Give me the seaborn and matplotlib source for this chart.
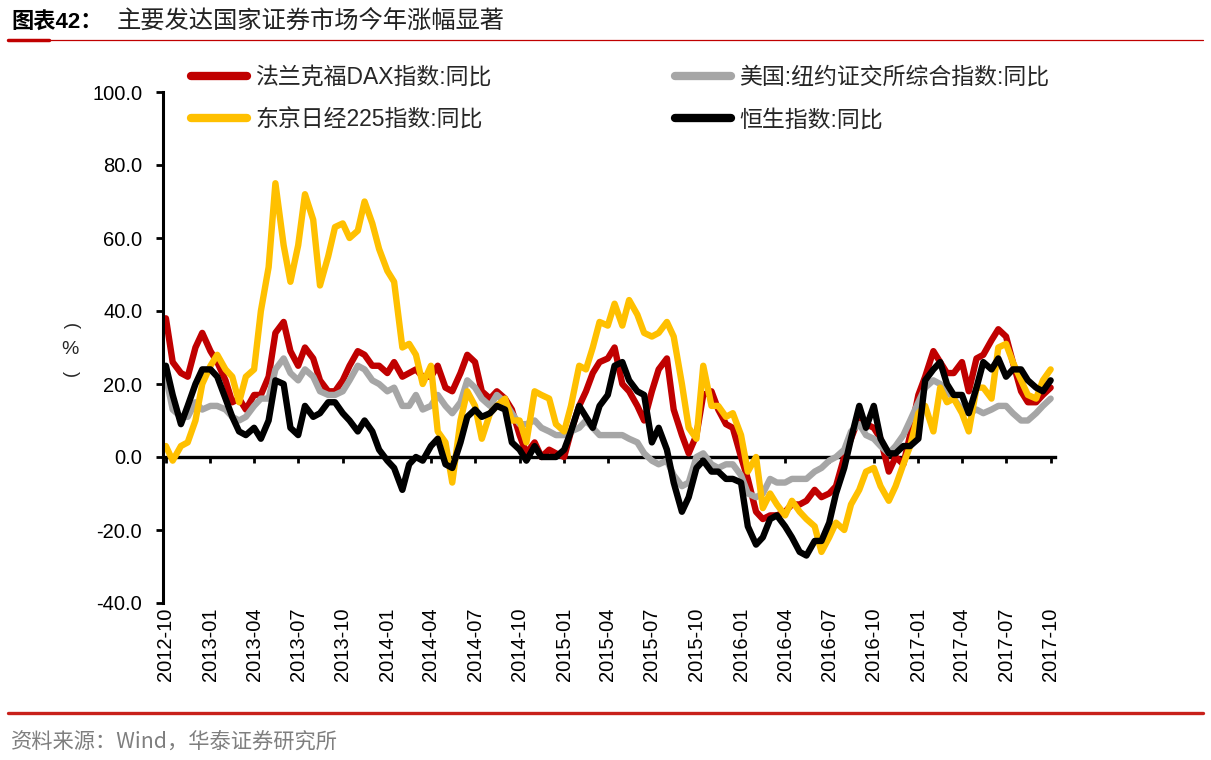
import numpy as np
import pandas as pd
import matplotlib
matplotlib.use("Agg")
import matplotlib.pyplot as plt
from matplotlib.lines import Line2D
import seaborn as sns

# ---------------- data (semi-monthly readings, % YoY) ----------------
dates = pd.date_range("2012-10-01", periods=121, freq="SMS")

dax = [38, 26, 23, 22, 30, 34, 29, 26, 21, 15, 16, 13, 17, 17, 22, 34, 37, 29, 25, 30,
       27, 21, 18, 18, 21, 25, 29, 28, 25, 25, 23, 26, 22, 23, 24, 22, 22, 25, 19, 18,
       23, 28, 26, 18, 16, 18, 16, 13, 6, 1, 4, 0, 2, 1, 0, 7, 14, 18, 23, 26,
       27, 30, 20, 18, 14, 10, 18, 24, 27, 13, 6, 1, 6, 17, 18, 13, 9, 8, 0, -6,
       -15, -17, -16, -16, -15, -13, -13, -12, -9, -11, -10, -8, 0, 5, 11, 9, 8, 5, -4, 0,
       -2, 6, 17, 22, 29, 26, 23, 23, 26, 18, 27, 28, 32, 35, 33, 26, 18, 15, 15, 17, 19]

nyse = [22, 13, 11, 11, 15, 13, 14, 14, 13, 11, 10, 11, 14, 16, 16, 24, 27, 23, 21, 24,
        22, 18, 17, 17, 18, 21, 25, 24, 21, 20, 18, 19, 14, 14, 17, 13, 14, 17, 14, 12,
        15, 21, 19, 16, 14, 17, 15, 12, 9, 9, 10, 8, 7, 6, 6, 7, 8, 10, 8, 6,
        6, 6, 6, 5, 4, 1, -1, -2, -1, -5, -8, -7, 0, 1, -2, -3, -2, -2, -5, -10,
        -11, -10, -6, -7, -7, -6, -6, -6, -4, -3, -1, 0, 2, 7, 9, 6, 5, 3, 1, 3,
        6, 10, 15, 19, 21, 20, 18, 16, 13, 12, 13, 12, 13, 14, 14, 12, 10, 10, 12, 14, 16]

n225 = [3, -1, 3, 4, 10, 20, 25, 28, 24, 22, 15, 22, 24, 40, 52, 75, 58, 48, 58, 72,
        65, 47, 55, 63, 64, 60, 62, 70, 64, 57, 51, 48, 30, 31, 28, 20, 25, 7, 4, -7,
        10, 18, 14, 5, 12, 14, 16, 10, 10, 4, 18, 17, 16, 9, 7, 14, 25, 24, 30, 37,
        36, 42, 36, 43, 39, 34, 33, 34, 37, 33, 20, 8, 5, 25, 14, 14, 11, 12, 6, -4,
        0, -14, -10, -13, -16, -12, -15, -17, -19, -26, -22, -18, -20, -13, -9, -4, -3, -8, -12, -8,
        -2, 3, 12, 14, 7, 19, 15, 16, 12, 7, 19, 19, 16, 30, 31, 26, 21, 17, 16, 21, 24]

hsi = [25, 17, 9, 14, 20, 24, 24, 22, 16, 11, 7, 6, 8, 5, 10, 21, 20, 8, 6, 14,
       11, 12, 15, 15, 12, 10, 7, 10, 7, 2, -1, -3, -9, -2, 0, -1, 3, 5, -2, -3,
       4, 11, 13, 11, 12, 14, 13, 4, 2, -1, 3, 0, 0, 0, 2, 7, 14, 11, 8, 14,
       17, 25, 26, 21, 18, 17, 4, 8, 2, -7, -15, -11, -3, -1, -4, -4, -6, -6, -7, -19,
       -24, -22, -17, -16, -19, -22, -26, -27, -23, -23, -18, -10, -3, 5, 14, 8, 14, 5, 1, 1,
       3, 3, 5, 21, 24, 26, 20, 17, 17, 12, 19, 26, 24, 27, 22, 24, 24, 21, 19, 18, 21]

series_names = ["法兰克福DAX指数:同比", "美国:纽约证交所综合指数:同比",
                "东京日经225指数:同比", "恒生指数:同比"]
series_values = [dax, nyse, n225, hsi]
colors = ["#C00000", "#A6A6A6", "#FFC000", "#000000"]

y_ticks = [-40, -20, 0, 20, 40, 60, 80, 100]
x_ticks = pd.date_range("2012-10-01", "2017-10-01", freq="QS-OCT")
x_tick_labels = [d.strftime("%Y-%m") for d in x_ticks]

title_head = "图表42："
title_body = "主要发达国家证券市场今年涨幅显著"
source_text = "资料来源：Wind，华泰证券研究所"

# ---------------- styling ----------------
sns.set_theme(style="white")
plt.rcParams["font.family"] = ["Liberation Sans", "Noto Sans CJK SC"]
plt.rcParams["axes.unicode_minus"] = False

W, H = 1211, 760
fig = plt.figure(figsize=(W / 100, H / 100), dpi=100)
fig.patch.set_facecolor("white")
ax = fig.add_axes([163 / W, 1 - 603 / H, (1055 - 163) / W, (603 - 92) / H])
ax.set_facecolor("white")

df = pd.DataFrame({
    "date": np.tile(dates, len(series_names)),
    "value": np.concatenate([np.asarray(v, dtype=float) for v in series_values]),
    "series": np.repeat(series_names, len(dates)),
})
sns.lineplot(data=df, x="date", y="value", hue="series", hue_order=series_names,
             palette=dict(zip(series_names, colors)), linewidth=4.6, legend=False,
             ax=ax, estimator=None, sort=True)
for ln in ax.lines:
    ln.set_solid_joinstyle("round")
    ln.set_solid_capstyle("round")

ax.set_ylim(-40, 100)
ax.set_xlim(pd.Timestamp("2012-09-25"), pd.Timestamp("2017-10-10"))
ax.set_yticks(y_ticks)
ax.set_yticklabels([f"{v:.1f}" for v in y_ticks])
ax.set_xticks(x_ticks)
ax.set_xticklabels(x_tick_labels)
ax.set_xlabel("")
ax.set_ylabel("")
ax.grid(False)

for s in ["top", "right"]:
    ax.spines[s].set_visible(False)
ax.spines["left"].set_linewidth(2.2)
ax.spines["left"].set_color("black")
ax.spines["bottom"].set_position(("data", 0))
ax.spines["bottom"].set_linewidth(2.4)
ax.spines["bottom"].set_color("black")
ax.spines["bottom"].set_zorder(1)

ax.tick_params(axis="y", direction="out", length=5, width=2, color="black",
               labelsize=14.5, pad=10, left=True)
ax.tick_params(axis="x", direction="out", length=4.5, width=2, color="black",
               labelsize=14.5, pad=104, bottom=True, labelrotation=90)
for t in ax.get_xticklabels():
    t.set_rotation(90)
    t.set_va("top")
    t.set_ha("center")
for t in ax.get_xticklabels() + ax.get_yticklabels():
    t.set_color("black")

# vertical unit label (%)
fig.text(70 / W, 1 - 326 / H, "(", rotation=-90, ha="center", va="center", fontsize=13)
fig.text(70 / W, 1 - 350 / H, "%", ha="center", va="center", fontsize=14)
fig.text(70 / W, 1 - 374 / H, ")", rotation=-90, ha="center", va="center", fontsize=13)

# legend (row-wise: DAX, NYSE / N225, HSI)
handles = [Line2D([], [], color=c, lw=6, solid_capstyle="round") for c in colors]
order = [0, 2, 1, 3]
fig.legend([handles[i] for i in order], [series_names[i] for i in order],
           loc="upper left", bbox_to_anchor=(191 / W, 1 - 66 / H),
           bbox_transform=fig.transFigure, ncol=2, frameon=False, fontsize=16.5,
           handlelength=2.45, handletextpad=0.35, columnspacing=8.0,
           labelspacing=0.85, borderpad=0, borderaxespad=0)

# title and decorations
fig.text(11 / W, 1 - 22 / H, title_head, ha="left", va="center", fontsize=16,
         fontweight="bold", family=["Liberation Sans", "Noto Sans CJK SC"], color="black")
fig.text(117 / W, 1 - 22 / H, title_body, ha="left", va="center", fontsize=17.5,
         family=["Noto Sans CJK SC"], color="#222222")
fig.add_artist(Line2D([8 / W, 1203 / W], [1 - 40 / H, 1 - 40 / H],
                      transform=fig.transFigure, color="#C00000", lw=0.9))
fig.add_artist(Line2D([8 / W, 49 / W], [1 - 40 / H, 1 - 40 / H],
                      transform=fig.transFigure, color="#C00000", lw=2.5))
fig.add_artist(Line2D([8 / W, 1203 / W], [1 - 713 / H, 1 - 713 / H],
                      transform=fig.transFigure, color="#C8201A", lw=2.4))
fig.text(11 / W, 1 - 742 / H, source_text, ha="left", va="center", fontsize=15.3,
         family=["Noto Sans CJK SC", "Liberation Sans"], color="#7F7F7F")

fig.savefig("out.png", dpi=100, facecolor="white")
